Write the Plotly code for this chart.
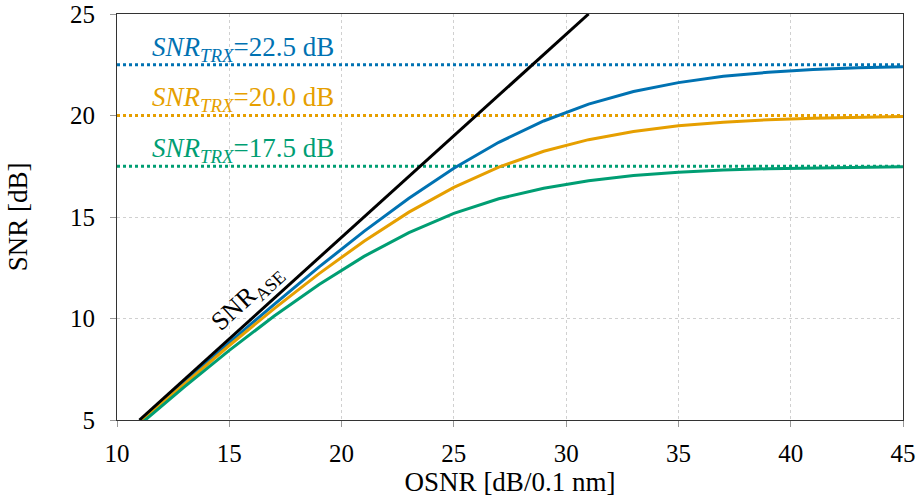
import plotly.graph_objects as go

# OSNR grid [dB/0.1 nm]
osnr = [11, 13, 15, 17, 19, 21, 23, 25, 27, 29, 31, 33, 35, 37, 39, 41, 43, 45]

# SNR curves [dB]
snr_trx_225 = [4.92, 6.88, 8.81, 10.70, 12.54, 14.29, 15.92, 17.40, 18.68, 19.73,
               20.56, 21.18, 21.62, 21.93, 22.13, 22.26, 22.35, 22.40]
snr_trx_200 = [4.87, 6.79, 8.67, 10.49, 12.21, 13.81, 15.24, 16.46, 17.46, 18.24,
               18.81, 19.21, 19.49, 19.67, 19.79, 19.87, 19.91, 19.95]
snr_trx_175 = [4.76, 6.63, 8.43, 10.12, 11.68, 13.06, 14.23, 15.18, 15.90, 16.42,
               16.79, 17.04, 17.20, 17.31, 17.38, 17.42, 17.45, 17.47]

# ASE-only SNR line
osnr_ase = [11, 31]
snr_ase = [5, 25]

trx_levels = [22.5, 20.0, 17.5]
trx_label_y = [23.3, 20.8, 18.3]
colors = ["#0072B2", "#E69F00", "#009E73"]
curves = [snr_trx_225, snr_trx_200, snr_trx_175]

xticks = [10, 15, 20, 25, 30, 35, 40, 45]
yticks = [5, 10, 15, 20, 25]

FONT = "Liberation Serif"

fig = go.Figure()

for lvl, col in zip(trx_levels, colors):
    fig.add_trace(go.Scatter(x=[10, 45], y=[lvl, lvl], mode="lines",
                             line=dict(color=col, width=3, dash="dot"),
                             showlegend=False, hoverinfo="skip"))

for cur, col in zip(curves, colors):
    fig.add_trace(go.Scatter(x=osnr, y=cur, mode="lines",
                             line=dict(color=col, width=3),
                             showlegend=False))

fig.add_trace(go.Scatter(x=osnr_ase, y=snr_ase, mode="lines",
                         line=dict(color="black", width=3),
                         showlegend=False))

for lvl, ly, col in zip(trx_levels, trx_label_y, colors):
    fig.add_annotation(x=11.45, y=ly, xanchor="left", yanchor="middle",
                       text=f"<i>SNR</i><sub><i>TRX</i></sub>={lvl:.1f} dB",
                       showarrow=False, font=dict(family=FONT, size=27, color=col))

fig.add_annotation(x=15.8, y=11.0, text="SNR<sub>ASE</sub>", showarrow=False,
                   textangle=-42.4, font=dict(family=FONT, size=26, color="black"))

axis_common = dict(showline=True, linecolor="#333", linewidth=1.2, mirror=True,
                   ticks="outside", ticklen=6, tickcolor="#999",
                   showgrid=True, gridcolor="#d0d0d0", griddash="dot", gridwidth=1,
                   zeroline=False, automargin=False, ticklabeloverflow="allow",
                   tickfont=dict(family=FONT, size=25, color="black"))

fig.update_xaxes(range=[10, 45], tickvals=xticks, ticklabelstandoff=5,
                 title=dict(text="OSNR [dB/0.1 nm]", font=dict(family=FONT, size=27, color="black"),
                            standoff=2),
                 **axis_common)
fig.update_yaxes(range=[5, 25], tickvals=yticks, ticklabelstandoff=10,
                 title=dict(text="SNR [dB]", font=dict(family=FONT, size=27, color="black"),
                            standoff=34),
                 **axis_common)

fig.update_layout(width=918, height=503, margin=dict(l=117, r=15, t=14, b=83),
                  plot_bgcolor="white", paper_bgcolor="white",
                  font=dict(family=FONT, color="black"))

fig.write_html("out.html")
